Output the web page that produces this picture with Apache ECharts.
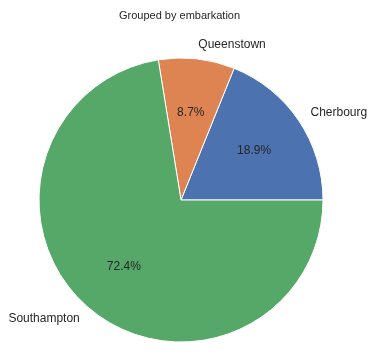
<!DOCTYPE html>
<html><head><meta charset="utf-8">
<script src="https://cdn.jsdelivr.net/npm/echarts@6/dist/echarts.min.js"></script>
<style>html,body{margin:0;padding:0;background:#fff}#c{width:376px;height:354px}</style>
</head><body><div id="c"></div>
<script>
const categories = ['Cherbourg', 'Queenstown', 'Southampton'];
const values = [168, 77, 644];
const colors = ['#4c72b0', '#dd8452', '#55a868'];
const titleText = 'Grouped by embarkation';

const R = 142;
const data = categories.map((c, i) => ({ name: c, value: values[i], itemStyle: { color: colors[i] } }));
const total = values.reduce((a, b) => a + b, 0);
const font = 'Liberation Sans, Arial, sans-serif';

const chart = echarts.init(document.getElementById('c'));
chart.setOption({
  animation: false,
  title: { text: titleText, left: 114, top: 5, textStyle: { fontSize: 11, fontWeight: 'normal', color: '#262626', fontFamily: font } },
  series: [
    {
      type: 'pie', center: [181, 200], radius: [0, R], startAngle: 0, clockwise: false,
      avoidLabelOverlap: false, silent: true,
      itemStyle: { borderColor: '#fff', borderWidth: 1 },
      label: { position: 'outside', formatter: '{b}', fontSize: 12, color: '#262626', fontFamily: font, distanceToLabelLine: 0 },
      labelLine: { show: false, length: R * 0.1, length2: 0 },
      data: data
    },
    {
      type: 'pie', center: [181, 200], radius: [R * 0.2, R], startAngle: 0, clockwise: false,
      avoidLabelOverlap: false, silent: true,
      itemStyle: { color: 'rgba(0,0,0,0)' },
      label: { position: 'inside', fontSize: 12, color: '#262626', fontFamily: font,
        formatter: p => (p.value / total * 100).toFixed(1) + '%' },
      labelLine: { show: false },
      data: categories.map((c, i) => ({ name: c, value: values[i], itemStyle: { color: 'rgba(0,0,0,0)' } }))
    }
  ]
});
</script></body></html>
